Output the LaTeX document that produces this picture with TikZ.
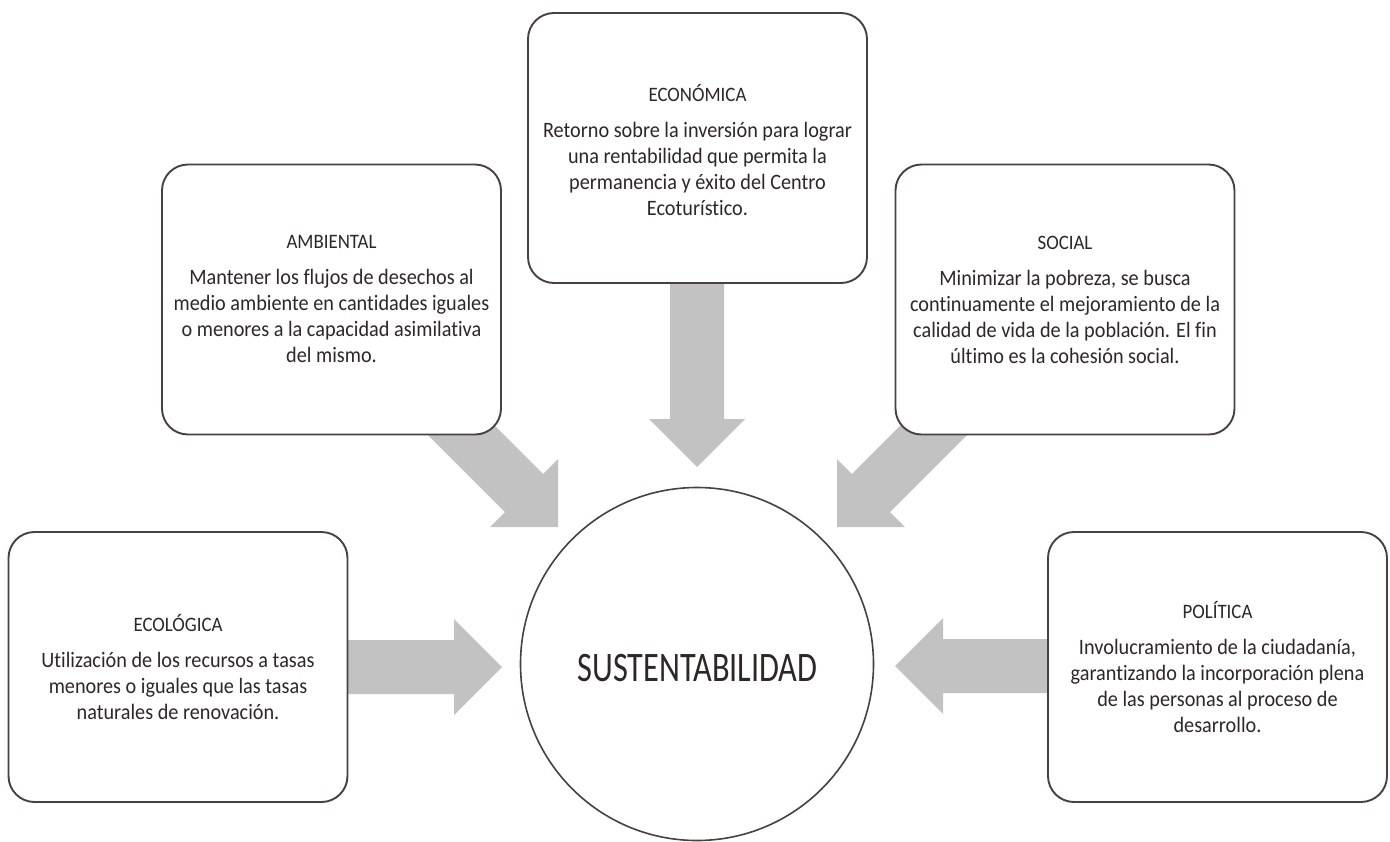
\documentclass[tikz,border=0pt]{standalone}
\usepackage{fontspec}
\setmainfont{Carlito}[FakeStretch=0.92, Ligatures=NoCommon]
\newfontfamily\bigfont{Carlito}[FakeStretch=0.77, Ligatures=NoCommon]
\definecolor{txt}{HTML}{2F2725}
\definecolor{edge}{HTML}{4A403C}
\definecolor{arr}{RGB}{195,194,194}
\tikzset{
  box/.style={draw=edge, line width=1.9pt, rounded corners=26pt, fill=white,
    minimum width=339pt, minimum height=270pt, inner sep=0pt},
  boxtext/.style={align=center, text=txt, font=\fontsize{22}{26}\selectfont, inner sep=0pt},
  pics/blockarrow/.style={code={
    \fill[arr] (0,0) -- (-48,-48) -- (-48,-27) -- (-#1,-27) -- (-#1,27)
      -- (-48,27) -- (-48,48) -- cycle;}}
}
\newcommand{\ttl}[1]{{\fontsize{20.5}{26}\selectfont #1}}
\begin{document}
\begin{tikzpicture}[x=1pt,y=-1pt]
\useasboundingbox[fill=white] (0,0) rectangle (1390,841);
% arrow tips
\coordinate (tEco) at (697,467);
\coordinate (tAmb) at (558,527);
\coordinate (tSoc) at (837,527);
\coordinate (tEcol) at (502,667);
\coordinate (tPol) at (895,666);
% block arrows (drawn behind boxes)
\pic[rotate=-90] at (tEco) {blockarrow=217};
\pic[rotate=-45] at (tAmb) {blockarrow=200};
\pic[rotate=-135] at (tSoc) {blockarrow=200};
\pic at (tEcol) {blockarrow=180};
\pic[rotate=180] at (tPol) {blockarrow=180};
% boxes
\node[box] (eco) at (697.5,148) {};
\node[boxtext] (ecoT) at ([yshift=-2pt]eco.center) {\ttl{ECONÓMICA}\\[10pt]
  Retorno sobre la inversión para lograr\\
  una rentabilidad que permita la\\
  permanencia y éxito del Centro\\
  Ecoturístico.};
\node[box] (amb) at (331.5,299.5) {};
\node[boxtext] (ambT) at (amb) {\ttl{AMBIENTAL}\\[10pt]
  Mantener los flujos de desechos al\\
  medio ambiente en cantidades iguales\\
  o menores a la capacidad asimilativa\\
  del mismo.};
\node[box] (soc) at (1065,299.5) {};
\node[boxtext] (socT) at (soc) {\ttl{SOCIAL}\\[10pt]
  Minimizar la pobreza, se busca\\
  continuamente el mejoramiento de la\\
  calidad de vida de la población. El fin\\
  último es la cohesión social.};
\node[box] (ecol) at (178,667) {};
\node[boxtext] (ecolT) at (ecol) {\ttl{ECOLÓGICA}\\[10pt]
  Utilización de los recursos a tasas\\
  menores o iguales que las tasas\\
  naturales de renovación.};
\node[box] (pol) at (1217.5,667) {};
\node[boxtext] (polT) at (pol) {\ttl{POLÍTICA}\\[10pt]
  Involucramiento de la ciudadanía,\\
  garantizando la incorporación plena\\
  de las personas al proceso de\\
  desarrollo.};
% centre
\node[draw=edge, line width=1.6pt, circle, minimum size=353pt, inner sep=0pt] (sus) at (697,664) {};
\node[text=txt, inner sep=0pt, font=\bigfont\fontsize{42}{46}\selectfont] (susT) at (697.5,668.5) {SUSTENTABILIDAD};
\end{tikzpicture}
\end{document}
